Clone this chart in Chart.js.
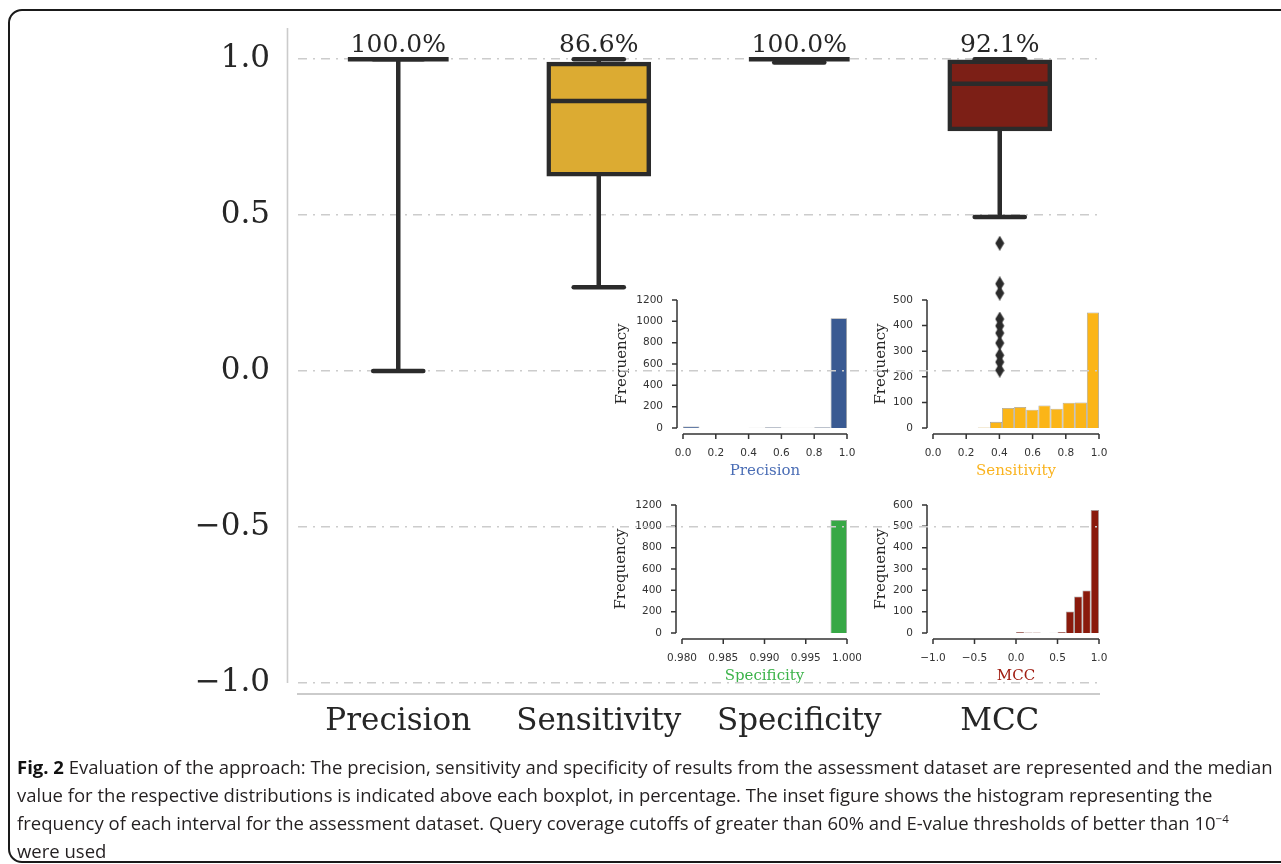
<!DOCTYPE html>
<html>
<head>
<meta charset="utf-8">
<script src="https://cdn.jsdelivr.net/npm/chart.js@4"></script>
<style>
html,body{margin:0;padding:0;background:#fff;width:1281px;height:864px;overflow:hidden;}
#frame{position:absolute;left:8px;top:9px;width:1300px;height:854px;border:2px solid #1a1a1a;border-radius:14px;box-sizing:border-box;}
canvas{position:absolute;}
#main{left:0;top:0;z-index:3;}
.inset{z-index:2;}
#caption{position:absolute;left:17px;top:753px;font-family:'Open Sans',sans-serif;font-size:18.5px;line-height:28px;color:#231f20;white-space:nowrap;z-index:4;}
#caption b{font-weight:700;color:#111;}
#caption sup{font-size:11.5px;vertical-align:7px;line-height:0;}
</style>
</head>
<body>
<div id="frame"></div>
<canvas id="main" width="1281" height="864"></canvas>
<canvas id="inPrec" class="inset"></canvas>
<canvas id="inSens" class="inset"></canvas>
<canvas id="inSpec" class="inset"></canvas>
<canvas id="inMcc" class="inset"></canvas>
<div id="caption">
<div><b>Fig. 2</b> Evaluation of the approach: The precision, sensitivity and specificity of results from the assessment dataset are represented and the median</div>
<div>value for the respective distributions is indicated above each boxplot, in percentage. The inset figure shows the histogram representing the</div>
<div>frequency of each interval for the assessment dataset. Query coverage cutoffs of greater than 60% and E-value thresholds of better than 10<sup>−4</sup></div>
<div>were used</div>
</div>
<script>
// ---------------- data: main boxplot ----------------
const categories = ['Precision', 'Sensitivity', 'Specificity', 'MCC'];
const medians = [1.0, 0.866, 1.0, 0.921];
const q1 = [1.0, 0.631, 1.0, 0.776];
const q3 = [1.0, 0.985, 1.0, 0.992];
const whiskerLow = [0.0, 0.269, 0.989, 0.494];
const whiskerHigh = [1.0, 1.0, 1.0, 1.0];
const mccOutliers = [0.41, 0.28, 0.25, 0.167, 0.145, 0.122, 0.09, 0.051, 0.029, 0.003];
const mainYTicks = [-1.0, -0.5, 0.0, 0.5, 1.0];

// ---------------- data: inset histograms ----------------
const precisionBinLeft = [0.0, 0.1, 0.2, 0.3, 0.4, 0.5, 0.6, 0.7, 0.8, 0.9];
const precisionBinWidth = 0.1;
const precisionCounts = [15, 0, 0, 0, 2, 7, 2, 2, 6, 1030];
const precisionXTicks = [0.0, 0.2, 0.4, 0.6, 0.8, 1.0];
const precisionYTicks = [0, 200, 400, 600, 800, 1000, 1200];

const sensitivityBinLeft = [0.270, 0.343, 0.416, 0.489, 0.562, 0.635, 0.708, 0.781, 0.854, 0.927];
const sensitivityBinWidth = 0.073;
const sensitivityCounts = [2, 24, 78, 82, 71, 88, 75, 99, 100, 451];
const sensitivityXTicks = [0.0, 0.2, 0.4, 0.6, 0.8, 1.0];
const sensitivityYTicks = [0, 100, 200, 300, 400, 500];

const specificityBinLeft = [0.980, 0.982, 0.984, 0.986, 0.988, 0.990, 0.992, 0.994, 0.996, 0.998];
const specificityBinWidth = 0.002;
const specificityCounts = [0, 0, 0, 1, 0, 1, 1, 0, 1, 1060];
const specificityXTicks = [0.980, 0.985, 0.990, 0.995, 1.000];
const specificityYTicks = [0, 200, 400, 600, 800, 1000, 1200];

const mccBinLeft = [0.0, 0.1, 0.2, 0.3, 0.4, 0.5, 0.6, 0.7, 0.8, 0.9];
const mccBinWidth = 0.1;
const mccCounts = [5, 2, 2, 0, 1, 5, 101, 171, 199, 577];
const mccXTicks = [-1.0, -0.5, 0.0, 0.5, 1.0];
const mccYTicks = [0, 100, 200, 300, 400, 500, 600];

// ---------------- styles ----------------
const LINE = '#2b2b2b';
const SERIF = '"DejaVu Serif", serif';
const SANS = '"DejaVu Sans", sans-serif';
const boxColors = ['#4a6db0', '#dcab32', '#37a846', '#7c1f16'];
const minus = s => String(s).replace('-', '\u2212');
const noPad = s => { s.paddingTop = 0; s.paddingBottom = 0; s.paddingLeft = 0; s.paddingRight = 0; };

// diamond marker
const diamond = document.createElement('canvas');
diamond.width = 10; diamond.height = 15;
{
  const c = diamond.getContext('2d');
  c.fillStyle = LINE;
  c.beginPath(); c.moveTo(5, 0); c.lineTo(9.5, 7.5); c.lineTo(5, 15); c.lineTo(0.5, 7.5); c.closePath(); c.fill();
}

// plugin drawing whiskers, caps, medians and median labels via the scales
const boxParts = {
  id: 'boxParts',
  afterDatasetsDraw(chart) {
    const {ctx, scales: {x, y}} = chart;
    const meta = chart.getDatasetMeta(0);
    ctx.save();
    ctx.strokeStyle = LINE;
    ctx.lineWidth = 4.5;
    const seg = (x1, y1, x2, y2, cap) => {
      ctx.lineCap = cap || 'butt';
      ctx.beginPath(); ctx.moveTo(x1, y1); ctx.lineTo(x2, y2); ctx.stroke();
    };
    categories.forEach((c, i) => {
      const cx = x.getPixelForValue(i);
      const half = meta.data[i].width / 2;
      const capHalf = half / 2;
      seg(cx, y.getPixelForValue(q3[i]), cx, y.getPixelForValue(whiskerHigh[i]));
      seg(cx, y.getPixelForValue(q1[i]), cx, y.getPixelForValue(whiskerLow[i]));
      const yh = y.getPixelForValue(whiskerHigh[i]);
      const yl = y.getPixelForValue(whiskerLow[i]);
      seg(cx - capHalf, yh, cx + capHalf, yh, 'round');
      seg(cx - capHalf, yl, cx + capHalf, yl, 'round');
      const ym = y.getPixelForValue(medians[i]);
      seg(cx - half + 2, ym, cx + half - 2, ym, 'square');
      ctx.fillStyle = '#262626';
      ctx.font = '25px ' + SERIF;
      ctx.textAlign = 'center';
      ctx.textBaseline = 'alphabetic';
      ctx.fillText((medians[i] * 100).toFixed(1) + '%', cx, y.getPixelForValue(1.0) - 7);
    });
    ctx.restore();
  }
};

// plugin drawing the main offset spines
const mainSpines = {
  id: 'mainSpines',
  afterDraw(chart) {
    const {ctx, chartArea: a} = chart;
    ctx.save();
    ctx.strokeStyle = '#cbcbcb';
    ctx.lineWidth = 1.6;
    ctx.beginPath(); ctx.moveTo(a.left - 10.5, a.top); ctx.lineTo(a.left - 10.5, a.bottom); ctx.stroke();
    ctx.lineWidth = 2;
    ctx.beginPath(); ctx.moveTo(a.left - 1, a.bottom + 11); ctx.lineTo(a.right, a.bottom + 11); ctx.stroke();
    ctx.restore();
  }
};

// plugin drawing seaborn-style offset spines with ticks for the insets
const insetSpines = {
  id: 'insetSpines',
  afterDraw(chart) {
    const {ctx, chartArea: a, scales: {x, y}} = chart;
    const off = 6, tl = 5;
    ctx.save();
    ctx.strokeStyle = '#333';
    ctx.lineWidth = 1.5;
    ctx.lineCap = 'butt';
    const xs = a.left - off;
    const yt = y.ticks;
    ctx.beginPath();
    ctx.moveTo(xs, y.getPixelForValue(yt[0].value));
    ctx.lineTo(xs, y.getPixelForValue(yt[yt.length - 1].value));
    yt.forEach(t => { const p = y.getPixelForValue(t.value); ctx.moveTo(xs - tl, p); ctx.lineTo(xs, p); });
    const ys = a.bottom + off;
    const xt = x.ticks;
    ctx.moveTo(x.getPixelForValue(xt[0].value), ys);
    ctx.lineTo(x.getPixelForValue(xt[xt.length - 1].value), ys);
    xt.forEach(t => { const p = x.getPixelForValue(t.value); ctx.moveTo(p, ys); ctx.lineTo(p, ys + tl); });
    ctx.stroke();
    ctx.restore();
  }
};

// ---------------- main chart ----------------
new Chart(document.getElementById('main'), {
  type: 'bar',
  data: {
    labels: categories,
    datasets: [
      {
        data: categories.map((c, i) => [q1[i], q3[i]]),
        backgroundColor: boxColors,
        borderColor: LINE,
        borderWidth: 4.5,
        borderSkipped: false,
        inflateAmount: 2.2,
        barPercentage: 0.5,
        categoryPercentage: 1.0
      },
      {
        type: 'scatter',
        data: mccOutliers.map(v => ({x: 'MCC', y: v})),
        pointStyle: diamond,
        backgroundColor: LINE,
        borderColor: LINE
      }
    ]
  },
  options: {
    responsive: false,
    animation: false,
    events: [],
    layout: {padding: {left: 0, top: 28, right: 181, bottom: 0}},
    plugins: {legend: {display: false}, tooltip: {enabled: false}},
    scales: {
      x: {
        type: 'category',
        offset: true,
        afterFit: s => { s.height = 181; noPad(s); },
        grid: {display: false, drawTicks: false},
        border: {display: false},
        ticks: {padding: 20, color: '#262626', font: {family: SERIF, size: 31}, maxRotation: 0, autoSkip: false}
      },
      y: {
        min: -1.0,
        max: 1.1,
        afterBuildTicks: s => { s.ticks = mainYTicks.map(v => ({value: v})); },
        afterFit: s => { s.width = 298; noPad(s); },
        grid: {color: '#cccccc', lineWidth: 1.5, drawTicks: false},
        border: {display: false, dash: [9, 6, 2, 6]},
        ticks: {padding: 28, color: '#262626', font: {family: SERIF, size: 31}, callback: v => minus(Number(v).toFixed(1))}
      }
    }
  },
  plugins: [boxParts, mainSpines]
});

// ---------------- insets ----------------
function makeInset(id, area, binLeft, binWidth, counts, xTicks, yTicks, xDigits, barColor, label, labelColor, yTitlePad) {
  const cv = document.getElementById(id);
  const W = area.right - area.left + 92 + 14;
  const H = area.bottom - area.top + 10 + 62;
  cv.width = W; cv.height = H;
  cv.style.left = (area.left - 92) + 'px';
  cv.style.top = (area.top - 10) + 'px';
  new Chart(cv, {
    type: 'bar',
    data: {
      datasets: [{
        data: binLeft.map((b, i) => ({x: b + binWidth / 2, y: counts[i]})),
        backgroundColor: barColor,
        borderColor: 'rgba(40,40,40,0.45)',
        borderWidth: 0.8,
        inflateAmount: 0,
        barPercentage: 1.0,
        categoryPercentage: 1.0
      }]
    },
    options: {
      responsive: false,
      animation: false,
      events: [],
      layout: {padding: {left: 0, top: 10, right: 14, bottom: 0}},
      plugins: {legend: {display: false}, tooltip: {enabled: false}},
      scales: {
        x: {
          type: 'linear',
          offset: false,
          min: xTicks[0],
          max: xTicks[xTicks.length - 1],
          afterBuildTicks: s => { s.ticks = xTicks.map(v => ({value: v})); },
          afterFit: s => { s.height = 62; noPad(s); },
          grid: {display: false, drawTicks: false},
          border: {display: false},
          ticks: {padding: 19, color: '#333', font: {family: SANS, size: 10.5}, autoSkip: false, maxRotation: 0,
                  callback: v => minus(Number(v).toFixed(xDigits))},
          title: {display: true, text: label, color: labelColor, font: {family: SERIF, size: 15}, padding: {top: 0, bottom: 10}}
        },
        y: {
          min: yTicks[0],
          max: yTicks[yTicks.length - 1],
          afterBuildTicks: s => { s.ticks = yTicks.map(v => ({value: v})); },
          afterFit: s => { s.width = 92; noPad(s); },
          grid: {display: false, drawTicks: false},
          border: {display: false},
          ticks: {padding: 20, color: '#333', font: {family: SANS, size: 10.5}, callback: v => String(v)},
          title: {display: true, text: 'Frequency', color: '#262626', font: {family: SERIF, size: 15}, padding: {top: yTitlePad, bottom: 0}}
        }
      }
    },
    plugins: [insetSpines]
  });
}

makeInset('inPrec', {left: 683, right: 847, top: 300, bottom: 428}, precisionBinLeft, precisionBinWidth, precisionCounts,
  precisionXTicks, precisionYTicks, 1, '#3a5a92', 'Precision', '#4a6db5', 22);
makeInset('inSens', {left: 933, right: 1099, top: 300, bottom: 428}, sensitivityBinLeft, sensitivityBinWidth, sensitivityCounts,
  sensitivityXTicks, sensitivityYTicks, 1, '#fbb517', 'Sensitivity', '#fab31e', 31);
makeInset('inSpec', {left: 682, right: 847, top: 505, bottom: 633}, specificityBinLeft, specificityBinWidth, specificityCounts,
  specificityXTicks, specificityYTicks, 3, '#37a846', 'Specificity', '#3cb34a', 22);
makeInset('inMcc', {left: 933, right: 1099, top: 505, bottom: 633}, mccBinLeft, mccBinWidth, mccCounts,
  mccXTicks, mccYTicks, 1, '#8a1a0c', 'MCC', '#a01d12', 31);
</script>
</body>
</html>
